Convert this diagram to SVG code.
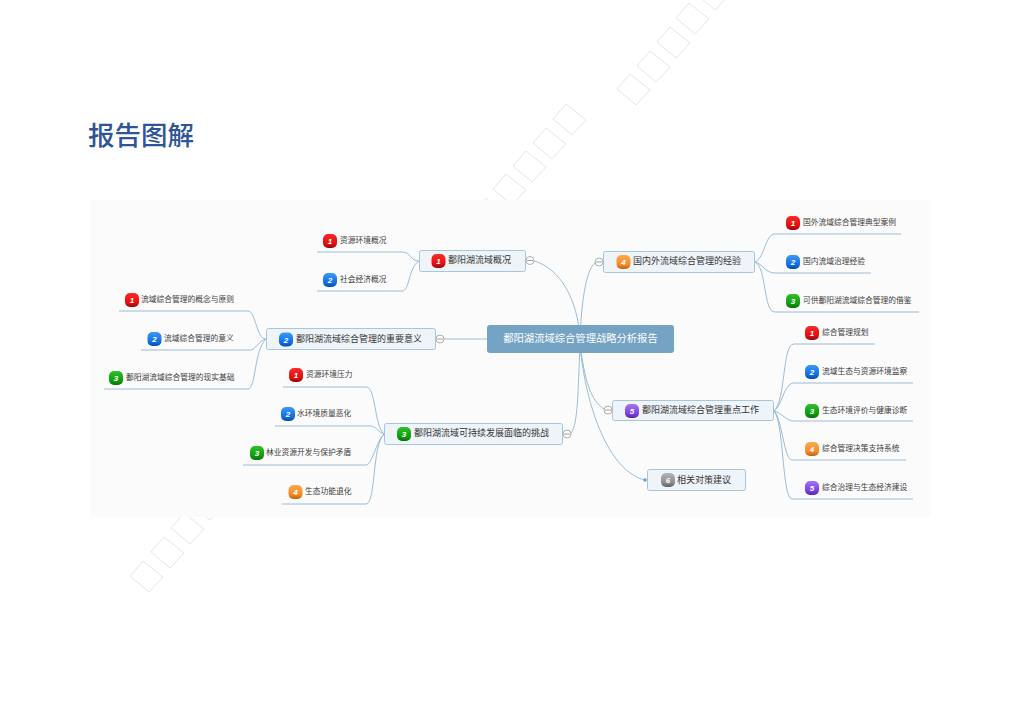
<svg xmlns="http://www.w3.org/2000/svg" width="1024" height="724" viewBox="0 0 1024 724">
<style>
text{font-family:"Noto Sans CJK SC","Noto Sans",sans-serif}
.title{font-size:26.5px;fill:#2f5597;font-weight:500}
.wm{fill:none;stroke:#dedede;stroke-width:.8}
.panel{fill:#fbfbfc}
.root{fill:#75a3c3}
.roott{font-size:10.3px;fill:#fff}
.box{fill:#eef4f8;stroke:#a6c6dc;stroke-width:1}
.lab{font-size:9px;fill:#333}
.leaf{font-size:7.75px;fill:#3c3c3c}
.con{fill:none;stroke:#8fb5d0;stroke-width:.9}
.cir{fill:#fff;stroke:#999;stroke-width:.8}
.dash{stroke:#888;stroke-width:.8}
.dot{fill:#6d9fc4}
.num{font-family:"Liberation Sans",sans-serif;font-size:8px;font-weight:700;font-style:italic;fill:#fff;text-anchor:middle}
.b1{fill:url(#g1)}.b2{fill:url(#g2)}.b3{fill:url(#g3)}.b4{fill:url(#g4)}.b5{fill:url(#g5)}.b6{fill:url(#g6)}
</style>
<defs>
<linearGradient id="g1" x1="0" y1="0" x2="0" y2="1"><stop offset="0" stop-color="#f92b2b"/><stop offset=".7" stop-color="#e40d0d"/><stop offset="1" stop-color="#8f0c14"/></linearGradient>
<linearGradient id="g2" x1="0" y1="0" x2="0" y2="1"><stop offset="0" stop-color="#3d98f5"/><stop offset=".7" stop-color="#0f6fe4"/><stop offset="1" stop-color="#0a4da8"/></linearGradient>
<linearGradient id="g3" x1="0" y1="0" x2="0" y2="1"><stop offset="0" stop-color="#2fc02a"/><stop offset=".7" stop-color="#0d9c0d"/><stop offset="1" stop-color="#0a6d0f"/></linearGradient>
<linearGradient id="g4" x1="0" y1="0" x2="0" y2="1"><stop offset="0" stop-color="#fbab4d"/><stop offset=".7" stop-color="#f28a26"/><stop offset="1" stop-color="#bd5f12"/></linearGradient>
<linearGradient id="g5" x1="0" y1="0" x2="0" y2="1"><stop offset="0" stop-color="#a574f5"/><stop offset=".7" stop-color="#7a3fe0"/><stop offset="1" stop-color="#5527ad"/></linearGradient>
<linearGradient id="g6" x1="0" y1="0" x2="0" y2="1"><stop offset="0" stop-color="#b5b5b5"/><stop offset=".7" stop-color="#8c8c8c"/><stop offset="1" stop-color="#5f5f5f"/></linearGradient>
<path id="d" d="M0 0L13-15 33 1 19 16Z"/>
<rect id="bd" x="-7" y="-7" width="14" height="14" rx="5"/>
</defs>
<rect width="1024" height="724" fill="#fff"/>
<g id="watermark" class="wm">
<use href="#d" x="130" y="576"/><use href="#d" x="151" y="552"/><use href="#d" x="171" y="528"/><use href="#d" x="191" y="504"/>
<use href="#d" x="473" y="213"/><use href="#d" x="493" y="189"/><use href="#d" x="513" y="166"/><use href="#d" x="533" y="143"/><use href="#d" x="553" y="119"/>
<use href="#d" x="617" y="89"/><use href="#d" x="637" y="66"/><use href="#d" x="657" y="42"/><use href="#d" x="676" y="18"/><use href="#d" x="696" y="-6"/>
</g>
<text id="title" class="title" x="88" y="145">报告图解</text>
<rect id="panel" class="panel" x="90" y="200" width="841" height="317"/>
<g id="connectors" class="con">
<path d="M534 261C560 268 578 300 580 339"/>
<path d="M595 263C585 270 581 310 580 339"/>
<path d="M444 339H487"/>
<path d="M571 433C578 425 578 390 580 345"/>
<path d="M604 409C590 400 585 380 580 345"/>
<path d="M580 345C586 410 610 472 645 480"/>
<path d="M317 252H402C411 252 410 261 419 261"/>
<path d="M317 291H402C410 291 408 268 419 261"/>
<path d="M119 311H248C256 311 256 339 266 339"/>
<path d="M141 350H250C256 350 258 341 266 339"/>
<path d="M104 389H248C256 389 254 350 266 339"/>
<path d="M283 387H366C376 387 374 425 384 434"/>
<path d="M275 426H370C376 426 378 432 384 434"/>
<path d="M243 465H366C372 465 376 442 384 434"/>
<path d="M282 504H366C376 504 372 445 384 434"/>
<path d="M755 262C765 258 765 234 775 234H901"/>
<path d="M755 262C763 264 765 273 775 273H871"/>
<path d="M755 262C767 268 763 312 775 312H919"/>
<path d="M774 411C786 400 782 344 794 344H875"/>
<path d="M774 411C782 406 784 383 794 383H913"/>
<path d="M774 411C782 413 786 421 794 421H913"/>
<path d="M774 411C782 418 784 460 792 460H906"/>
<path d="M774 411C784 422 782 499 792 499H913"/>
</g>
<g id="root"><rect class="root" x="487" y="325" width="187" height="28" rx="3"/><text class="roott" x="580.5" y="342" text-anchor="middle">鄱阳湖流域综合管理战略分析报告</text></g>
<g id="n1"><rect class="box" x="419.500" y="250.500" width="106" height="21" rx="2"/><use href="#bd" class="b1" x="438.500" y="261"/><text class="num" x="438.500" y="264">1</text><text class="lab" x="448" y="263">鄱阳湖流域概况</text><circle class="cir" cx="530" cy="260.500" r="4"/><path class="dash" d="M527 260.500H533"/></g>
<g id="n2"><rect class="box" x="266.500" y="328.500" width="169" height="21" rx="2"/><use href="#bd" class="b2" x="286" y="339.500"/><text class="num" x="286" y="342.500">2</text><text class="lab" x="296" y="341.500">鄱阳湖流域综合管理的重要意义</text><circle class="cir" cx="440" cy="339" r="4"/><path class="dash" d="M437 339H443"/></g>
<g id="n3"><rect class="box" x="384.500" y="423.500" width="178" height="21" rx="2"/><use href="#bd" class="b3" x="404" y="434"/><text class="num" x="404" y="437">3</text><text class="lab" x="414" y="436">鄱阳湖流域可持续发展面临的挑战</text><circle class="cir" cx="567" cy="434" r="4"/><path class="dash" d="M564 434H570"/></g>
<g id="n4"><rect class="box" x="603.500" y="251.500" width="151" height="21" rx="2"/><use href="#bd" class="b4" x="623.500" y="262"/><text class="num" x="623.500" y="265">4</text><text class="lab" x="633" y="264">国内外流域综合管理的经验</text><circle class="cir" cx="599" cy="262" r="4"/><path class="dash" d="M596 262H602"/></g>
<g id="n5"><rect class="box" x="612.500" y="400.500" width="161" height="20" rx="2"/><use href="#bd" class="b5" x="632" y="411"/><text class="num" x="632" y="414">5</text><text class="lab" x="642" y="413">鄱阳湖流域综合管理重点工作</text><circle class="cir" cx="608" cy="410" r="4"/><path class="dash" d="M605 410H611"/></g>
<g id="n6"><rect class="box" x="647.500" y="469.500" width="98" height="21" rx="2"/><use href="#bd" class="b6" x="668" y="480"/><text class="num" x="668" y="483">6</text><text class="lab" x="677" y="482.500">相关对策建议</text><circle class="dot" cx="645" cy="480" r="1.800"/></g>
<g id="n1-1"><use href="#bd" class="b1" x="330" y="241"/><text class="num" x="330" y="244">1</text><text class="leaf" x="340" y="243">资源环境概况</text></g>
<g id="n1-2"><use href="#bd" class="b2" x="330" y="280"/><text class="num" x="330" y="283">2</text><text class="leaf" x="340" y="282">社会经济概况</text></g>
<g id="n2-1"><use href="#bd" class="b1" x="132" y="300"/><text class="num" x="132" y="303">1</text><text class="leaf" x="141" y="302">流域综合管理的概念与原则</text></g>
<g id="n2-2"><use href="#bd" class="b2" x="154.500" y="339"/><text class="num" x="154.500" y="342">2</text><text class="leaf" x="164" y="341">流域综合管理的意义</text></g>
<g id="n2-3"><use href="#bd" class="b3" x="116" y="378"/><text class="num" x="116" y="381">3</text><text class="leaf" x="126" y="380">鄱阳湖流域综合管理的现实基础</text></g>
<g id="n3-1"><use href="#bd" class="b1" x="296" y="375"/><text class="num" x="296" y="378">1</text><text class="leaf" x="306" y="377">资源环境压力</text></g>
<g id="n3-2"><use href="#bd" class="b2" x="288" y="414"/><text class="num" x="288" y="417">2</text><text class="leaf" x="297" y="416">水环境质量恶化</text></g>
<g id="n3-3"><use href="#bd" class="b3" x="257" y="453"/><text class="num" x="257" y="456">3</text><text class="leaf" x="266" y="455">林业资源开发与保护矛盾</text></g>
<g id="n3-4"><use href="#bd" class="b4" x="295.500" y="492"/><text class="num" x="295.500" y="495">4</text><text class="leaf" x="305" y="494">生态功能退化</text></g>
<g id="n4-1"><use href="#bd" class="b1" x="793" y="223"/><text class="num" x="793" y="226">1</text><text class="leaf" x="803" y="225">国外流域综合管理典型案例</text></g>
<g id="n4-2"><use href="#bd" class="b2" x="793" y="262"/><text class="num" x="793" y="265">2</text><text class="leaf" x="803" y="264">国内流域治理经验</text></g>
<g id="n4-3"><use href="#bd" class="b3" x="793" y="301"/><text class="num" x="793" y="304">3</text><text class="leaf" x="803" y="303">可供鄱阳湖流域综合管理的借鉴</text></g>
<g id="n5-1"><use href="#bd" class="b1" x="812" y="333"/><text class="num" x="812" y="336">1</text><text class="leaf" x="822" y="335">综合管理规划</text></g>
<g id="n5-2"><use href="#bd" class="b2" x="812" y="372"/><text class="num" x="812" y="375">2</text><text class="leaf" x="822" y="374">流域生态与资源环境监察</text></g>
<g id="n5-3"><use href="#bd" class="b3" x="812" y="411"/><text class="num" x="812" y="414">3</text><text class="leaf" x="822" y="413">生态环境评价与健康诊断</text></g>
<g id="n5-4"><use href="#bd" class="b4" x="812" y="449"/><text class="num" x="812" y="452">4</text><text class="leaf" x="822" y="451">综合管理决策支持系统</text></g>
<g id="n5-5"><use href="#bd" class="b5" x="812" y="488"/><text class="num" x="812" y="491">5</text><text class="leaf" x="822" y="490">综合治理与生态经济建设</text></g>
</svg>
